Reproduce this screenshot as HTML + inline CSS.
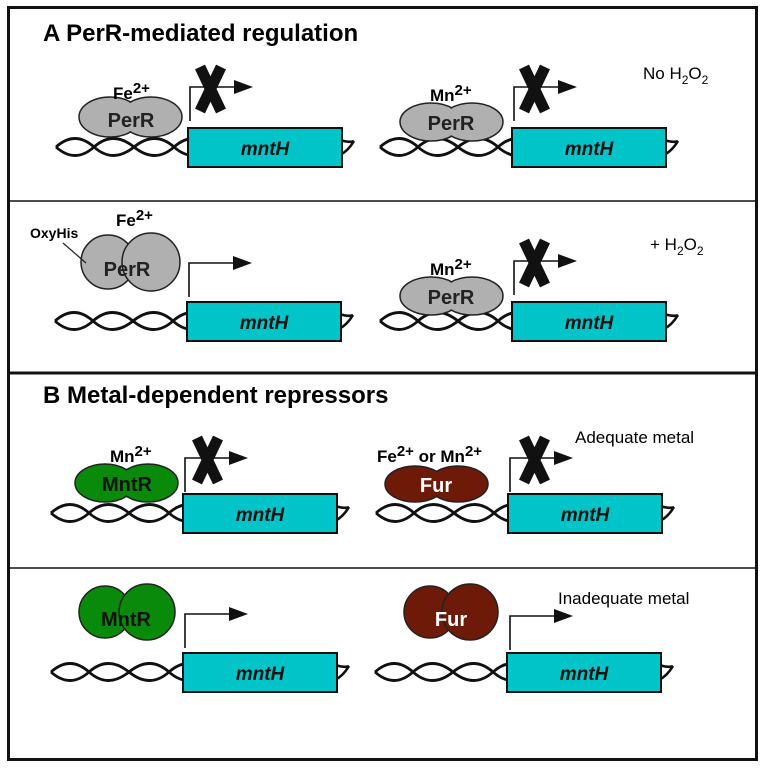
<!DOCTYPE html>
<html><head><meta charset="utf-8"><style>
body{margin:0;background:#fff}
svg{display:block;font-family:"Liberation Sans",Arial,sans-serif}
</style></head><body>
<svg width="764" height="768" viewBox="0 0 764 768" xmlns="http://www.w3.org/2000/svg">
<defs>
<g id="unit">
  <path d="M-132 0 Q-113 -17 -94 0 T-54 0 T-14 0 T26 0" fill="none" stroke="#111" stroke-width="2.8"/>
  <path d="M-132 0 Q-113 17 -94 0 T-54 0 T-14 0 T26 0" fill="none" stroke="#111" stroke-width="2.8"/>
  <path d="M152 -7 Q162 -4 166 -6 M152 8 Q160 4 166 -6" fill="none" stroke="#111" stroke-width="2.6"/>
  <rect x="0" y="-19" width="154" height="39" fill="#00c4c8" stroke="#111" stroke-width="2"/>
  <text x="77" y="8" text-anchor="middle" font-size="19" font-weight="bold" font-style="italic" fill="#111">mntH</text>
</g>
<g id="arr">
  <path d="M2 -24 V-58 H48" fill="none" stroke="#111" stroke-width="1.6"/>
  <polygon points="46,-65 65,-58 46,-51" fill="#111"/>
</g>
<g id="xx">
  <path d="M12 -78 L33 -34 M33 -78 L12 -34" stroke="#111" stroke-width="11"/>
</g>
</defs>
<rect x="8.5" y="7.5" width="748" height="752" fill="none" stroke="#111" stroke-width="3"/>
<line x1="8" y1="201" x2="757" y2="201" stroke="#111" stroke-width="1.5"/>
<line x1="8" y1="373" x2="757" y2="373" stroke="#111" stroke-width="3"/>
<line x1="8" y1="568" x2="757" y2="568" stroke="#111" stroke-width="1.5"/>

<text x="43" y="41" font-size="24" font-weight="bold">A PerR-mediated regulation</text>
<text x="43" y="403" font-size="24" font-weight="bold">B Metal-dependent repressors</text>

<!-- Row 1 -->
<use href="#unit" x="188" y="147"/><use href="#arr" x="188" y="145"/><use href="#xx" x="188" y="145"/>
<g stroke="#222" stroke-width="1.5">
<ellipse cx="110" cy="117" rx="31" ry="20" fill="#b0b0b0"/>
<ellipse cx="151" cy="117" rx="31" ry="20" fill="#b0b0b0"/>
</g>
<ellipse cx="110" cy="117" rx="30" ry="19" fill="#b0b0b0"/>
<ellipse cx="151" cy="117" rx="30" ry="19" fill="#b0b0b0"/>
<text x="131" y="127" text-anchor="middle" font-size="20" font-weight="bold" fill="#222">PerR</text>
<text x="113" y="99" font-size="17" font-weight="bold">Fe<tspan dy="-6" font-size="15">2+</tspan></text>

<use href="#unit" x="512" y="147"/><use href="#arr" x="512" y="145"/><use href="#xx" x="512" y="145"/>
<g stroke="#222" stroke-width="1.5">
<ellipse cx="431" cy="122" rx="31" ry="19" fill="#b0b0b0"/>
<ellipse cx="472" cy="122" rx="31" ry="19" fill="#b0b0b0"/>
</g>
<ellipse cx="431" cy="122" rx="30" ry="18" fill="#b0b0b0"/>
<ellipse cx="472" cy="122" rx="30" ry="18" fill="#b0b0b0"/>
<text x="451" y="130" text-anchor="middle" font-size="20" font-weight="bold" fill="#222">PerR</text>
<text x="430" y="101" font-size="17" font-weight="bold">Mn<tspan dy="-6" font-size="15">2+</tspan></text>
<text x="643" y="79" font-size="17">No H<tspan dy="5" font-size="12">2</tspan><tspan dy="-5">O</tspan><tspan dy="5" font-size="12">2</tspan></text>

<!-- Row 2 -->
<use href="#unit" x="187" y="321"/><use href="#arr" x="187" y="321"/>
<circle cx="108" cy="262" r="27" fill="#b0b0b0" stroke="#222" stroke-width="1.5"/>
<circle cx="151" cy="262" r="29" fill="#b0b0b0" stroke="#222" stroke-width="1.5"/>
<text x="127" y="276" text-anchor="middle" font-size="20" font-weight="bold" fill="#222">PerR</text>
<text x="30" y="238" font-size="14" font-weight="bold">OxyHis</text>
<line x1="63" y1="243" x2="86" y2="263" stroke="#222" stroke-width="1.2"/>
<text x="116" y="226" font-size="17" font-weight="bold">Fe<tspan dy="-6" font-size="15">2+</tspan></text>

<use href="#unit" x="512" y="321"/><use href="#arr" x="512" y="319"/><use href="#xx" x="512" y="319"/>
<g stroke="#222" stroke-width="1.5">
<ellipse cx="431" cy="296" rx="31" ry="19" fill="#b0b0b0"/>
<ellipse cx="472" cy="296" rx="31" ry="19" fill="#b0b0b0"/>
</g>
<ellipse cx="431" cy="296" rx="30" ry="18" fill="#b0b0b0"/>
<ellipse cx="472" cy="296" rx="30" ry="18" fill="#b0b0b0"/>
<text x="451" y="304" text-anchor="middle" font-size="20" font-weight="bold" fill="#222">PerR</text>
<text x="430" y="275" font-size="17" font-weight="bold">Mn<tspan dy="-6" font-size="15">2+</tspan></text>
<text x="650" y="250" font-size="17">+ H<tspan dy="5" font-size="12">2</tspan><tspan dy="-5">O</tspan><tspan dy="5" font-size="12">2</tspan></text>

<!-- Row 3 -->
<use href="#unit" x="183" y="513"/><use href="#arr" x="183" y="516"/><use href="#xx" x="185" y="516"/>
<g stroke="#222" stroke-width="1.5">
<ellipse cx="105" cy="483" rx="30" ry="19" fill="#0a8a0a"/>
<ellipse cx="148" cy="483" rx="30" ry="19" fill="#0a8a0a"/>
</g>
<ellipse cx="105" cy="483" rx="29" ry="18" fill="#0a8a0a"/>
<ellipse cx="148" cy="483" rx="29" ry="18" fill="#0a8a0a"/>
<text x="127" y="491" text-anchor="middle" font-size="20" font-weight="bold" fill="#111">MntR</text>
<text x="110" y="462" font-size="17" font-weight="bold">Mn<tspan dy="-6" font-size="15">2+</tspan></text>

<use href="#unit" x="508" y="513"/><use href="#arr" x="508" y="516"/><use href="#xx" x="512" y="516"/>
<g stroke="#222" stroke-width="1.5">
<ellipse cx="415" cy="484" rx="30" ry="18" fill="#6e1a08"/>
<ellipse cx="458" cy="484" rx="30" ry="18" fill="#6e1a08"/>
</g>
<ellipse cx="415" cy="484" rx="29" ry="17" fill="#6e1a08"/>
<ellipse cx="458" cy="484" rx="29" ry="17" fill="#6e1a08"/>
<text x="436" y="492" text-anchor="middle" font-size="20" font-weight="bold" fill="#fff">Fur</text>
<text x="377" y="462" font-size="17" font-weight="bold">Fe<tspan dy="-6" font-size="15">2+</tspan><tspan dy="6"> or Mn</tspan><tspan dy="-6" font-size="15">2+</tspan></text>
<text x="575" y="443" font-size="17">Adequate metal</text>

<!-- Row 4 -->
<use href="#unit" x="183" y="672"/><use href="#arr" x="183" y="672"/>
<circle cx="105" cy="612" r="26" fill="#0a8a0a" stroke="#222" stroke-width="1.5"/>
<circle cx="147" cy="612" r="28" fill="#0a8a0a" stroke="#222" stroke-width="1.5"/>
<text x="126" y="626" text-anchor="middle" font-size="20" font-weight="bold" fill="#111">MntR</text>

<use href="#unit" x="507" y="672"/><use href="#arr" x="508" y="674"/>
<circle cx="430" cy="612" r="26" fill="#6e1a08" stroke="#222" stroke-width="1.5"/>
<circle cx="470" cy="612" r="28" fill="#6e1a08" stroke="#222" stroke-width="1.5"/>
<text x="451" y="626" text-anchor="middle" font-size="20" font-weight="bold" fill="#fff">Fur</text>
<text x="558" y="604" font-size="17">Inadequate metal</text>
</svg>
</body></html>
